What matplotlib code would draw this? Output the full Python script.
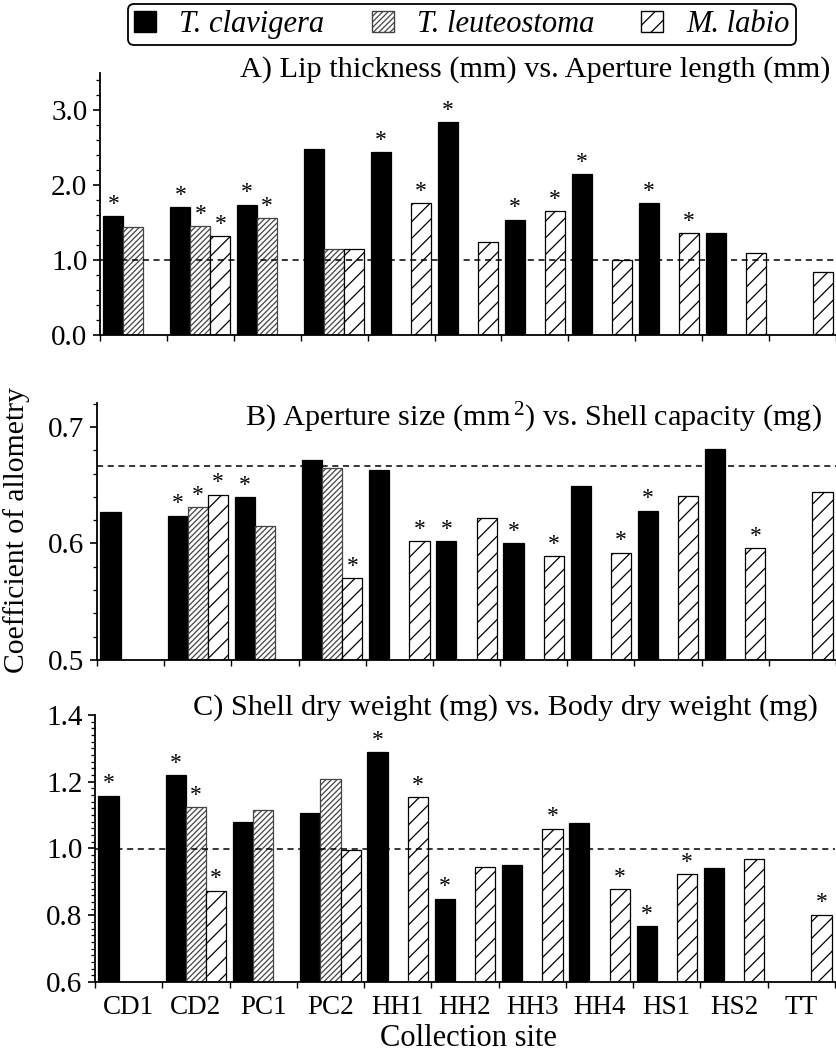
import matplotlib
matplotlib.use('Agg')
import matplotlib.pyplot as plt
import matplotlib.patches as mpatches
from matplotlib.ticker import MultipleLocator, FixedLocator, NullFormatter
import numpy as np

plt.rcParams['font.family'] = ['Liberation Serif', 'DejaVu Serif']
plt.rcParams['mathtext.fontset'] = 'custom'
plt.rcParams['mathtext.rm'] = 'Liberation Serif'
plt.rcParams['mathtext.default'] = 'regular'
plt.rcParams['hatch.linewidth'] = 0.9

sites = ['CD1', 'CD2', 'PC1', 'PC2', 'HH1', 'HH2', 'HH3', 'HH4', 'HS1', 'HS2', 'TT']
species = ['T. clavigera', 'T. leuteostoma', 'M. labio']

# None = species not collected at that site
# A) Lip thickness vs aperture length
a_clav = [1.59, 1.71, 1.74, 2.48, 2.44, 2.84, 1.54, 2.15, 1.76, 1.36, None]
a_leut = [1.44, 1.45, 1.56, 1.15, None, None, None, None, None, None, None]
a_labio = [None, 1.32, None, 1.15, 1.76, 1.24, 1.65, 1.00, 1.36, 1.09, 0.84]
a_clav_sig = [1, 1, 1, 0, 1, 1, 1, 1, 1, 0, 0]
a_leut_sig = [0, 1, 1, 0, 0, 0, 0, 0, 0, 0, 0]
a_labio_sig = [0, 1, 0, 0, 1, 0, 1, 0, 1, 0, 0]

# B) Aperture size vs shell capacity
b_clav = [0.627, 0.624, 0.640, 0.672, 0.663, 0.602, 0.600, 0.649, 0.628, 0.681, None]
b_leut = [None, 0.631, 0.615, 0.665, None, None, None, None, None, None, None]
b_labio = [None, 0.642, None, 0.570, 0.602, 0.622, 0.589, 0.592, 0.641, 0.596, 0.644]
b_clav_sig = [0, 1, 1, 0, 0, 1, 1, 0, 1, 0, 0]
b_leut_sig = [0, 1, 0, 0, 0, 0, 0, 0, 0, 0, 0]
b_labio_sig = [0, 1, 0, 1, 1, 0, 1, 1, 0, 1, 0]

# C) Shell dry weight vs body dry weight
c_clav = [1.158, 1.219, 1.080, 1.106, 1.288, 0.850, 0.952, 1.076, 0.767, 0.942, None]
c_leut = [None, 1.124, 1.114, 1.209, None, None, None, None, None, None, None]
c_labio = [None, 0.873, None, 0.995, 1.154, 0.945, 1.059, 0.878, 0.923, 0.970, 0.802]
c_clav_sig = [1, 1, 0, 0, 1, 1, 0, 0, 1, 0, 0]
c_leut_sig = [0, 1, 0, 0, 0, 0, 0, 0, 0, 0, 0]
c_labio_sig = [0, 1, 0, 0, 1, 0, 1, 1, 1, 0, 1]

ref_lines = [1.0, 2.0 / 3.0, 1.0]
titles = ['A) Lip thickness (mm) vs. Aperture length (mm)',
          'B) Aperture size (mm$^{\\,2}$) vs. Shell capacity (mg)',
          'C) Shell dry weight (mg) vs. Body dry weight (mg)']

styles = [dict(color='black', edgecolor='black'),
          dict(color='white', edgecolor='#444444', hatch='//////'),
          dict(color='white', edgecolor='black', hatch='//')]
offsets = [0.2, 0.5, 0.8]
width = 0.3

fig = plt.figure(figsize=(8.36, 10.58), dpi=100)

# panel geometry in pixels: left, top, bottom, right
geo = [(100, 73, 335, 836), (97, 403, 660, 836), (95, 715, 982, 835)]
ylims = [(0, 3.5), (0.5, 0.7206), (0.6, 1.4)]
majors = [1.0, 0.1, 0.2]
minors = [0.2, 0.02, 0.02]

data = [(a_clav, a_leut, a_labio), (b_clav, b_leut, b_labio), (c_clav, c_leut, c_labio)]
sigs = [(a_clav_sig, a_leut_sig, a_labio_sig), (b_clav_sig, b_leut_sig, b_labio_sig),
        (c_clav_sig, c_leut_sig, c_labio_sig)]
title_pos = [(830, 70), (822, 418), (818, 708)]

W, H = 836.0, 1058.0
for p in range(3):
    l, t, b, r = geo[p]
    ax = fig.add_axes([l / W, 1 - b / H, (r - l) / W, (b - t) / H])
    base = ylims[p][0]
    for s in range(3):
        vals = data[p][s]
        for i, v in enumerate(vals):
            if v is None:
                continue
            x = i + offsets[s]
            ax.bar(x, v - base, bottom=base, width=width, linewidth=0.9,
                   zorder=2, **styles[s])
            if sigs[p][s][i]:
                ax.annotate('*', xy=(x, v), xytext=(0, 1), textcoords='offset points',
                            ha='center', va='bottom', fontsize=17, zorder=4)
    ax.axhline(ref_lines[p], color='black', linestyle=(0, (4, 3)), linewidth=1.1, zorder=3)
    ax.set_xlim(0, 11)
    ax.set_ylim(*ylims[p])
    ax.spines['top'].set_visible(False)
    ax.spines['right'].set_visible(False)
    ax.spines['left'].set_linewidth(1.3)
    ax.spines['bottom'].set_linewidth(1.3)
    ax.yaxis.set_major_locator(MultipleLocator(majors[p]))
    ax.yaxis.set_minor_locator(MultipleLocator(minors[p]))
    ax.yaxis.set_major_formatter(plt.FormatStrFormatter('%.1f'))
    ax.tick_params(axis='y', which='major', length=5, width=1.2, labelsize=21, pad=4)
    ax.tick_params(axis='y', which='minor', length=3, width=0.9)
    ax.xaxis.set_major_locator(FixedLocator(np.arange(0, 12)))
    ax.xaxis.set_major_formatter(NullFormatter())
    ax.tick_params(axis='x', which='major', length=4, width=1.0)
    if p == 2:
        ax.xaxis.set_minor_locator(FixedLocator(np.arange(11) + 0.5))
        ax.set_xticklabels(sites, minor=True)
        ax.tick_params(axis='x', which='minor', length=0, labelsize=19.5, pad=9)
    tx, ty = title_pos[p]
    fig.text(tx / W, 1 - ty / H, titles[p], ha='right', va='center', fontsize=21.8)

fig.text(17 / W, 1 - 530 / H, 'Coefficient of allometry', rotation=90,
         ha='center', va='center', fontsize=21.3)
fig.text(468 / W, 1 - 1038 / H, 'Collection site', ha='center', va='center', fontsize=22)

handles = [mpatches.Patch(facecolor='black', edgecolor='black', label=species[0]),
           mpatches.Patch(facecolor='white', edgecolor='#444444', hatch='//////', label=species[1]),
           mpatches.Patch(facecolor='white', edgecolor='black', hatch='//', label=species[2])]
leg = fig.legend(handles=handles, loc='upper center', bbox_to_anchor=(462 / W, 1 - 4 / H),
                 ncol=3, frameon=True, fancybox=True, edgecolor='black', framealpha=1,
                 prop={'style': 'italic', 'size': 22}, handlelength=0.72, handleheight=0.72,
                 columnspacing=1.55, handletextpad=0.75, borderpad=0.2, borderaxespad=0)
leg.get_frame().set_linewidth(1.3)

fig.savefig('out.png', dpi=100)
